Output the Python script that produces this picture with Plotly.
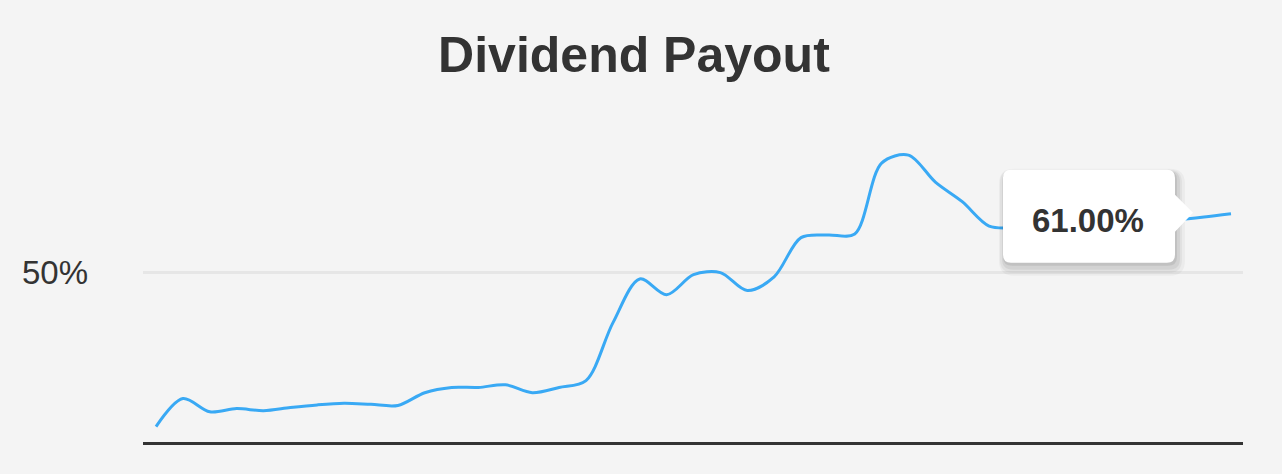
import plotly.graph_objects as go

# ---- data -------------------------------------------------------------
quarters = [
    "2014 Q1", "2014 Q2", "2014 Q3", "2014 Q4",
    "2015 Q1", "2015 Q2", "2015 Q3", "2015 Q4",
    "2016 Q1", "2016 Q2", "2016 Q3", "2016 Q4",
    "2017 Q1", "2017 Q2", "2017 Q3", "2017 Q4",
    "2018 Q1", "2018 Q2", "2018 Q3", "2018 Q4",
    "2019 Q1", "2019 Q2", "2019 Q3", "2019 Q4",
    "2020 Q1", "2020 Q2", "2020 Q3", "2020 Q4",
    "2021 Q1", "2021 Q2", "2021 Q3", "2021 Q4",
    "2022 Q1", "2022 Q2", "2022 Q3", "2022 Q4",
    "2023 Q1", "2023 Q2", "2023 Q3", "2023 Q4",
    "2024 Q1",
]
payout_pct = [
    20.8, 26.1, 23.6, 24.2, 23.8, 24.4, 24.9, 25.2, 25.0, 24.8,
    27.2, 28.2, 28.2, 28.7, 27.2, 28.2, 29.5, 40.4, 48.7, 45.7,
    49.5, 49.9, 46.5, 49.1, 56.5, 57.0, 57.2, 70.6, 72.1, 67.0,
    63.3, 58.7, 58.4, 58.6, 58.9, 59.1, 59.4, 59.6, 59.9, 60.4,
    61.0,
]
tick_values = [50]
tick_labels = ["50%"]
tooltip_text = "61.00%"

x_idx = list(range(len(quarters)))
last_x = x_idx[-1]
last_y = payout_pct[-1]

# ---- figure -----------------------------------------------------------
fig = go.Figure()
fig.add_trace(go.Scatter(
    x=x_idx, y=payout_pct,
    mode="lines",
    line=dict(color="#39a9f4", width=3, shape="spline", smoothing=0.9),
    text=quarters,
    hoverinfo="text+y",
    showlegend=False,
))

# tooltip callout (pixel-sized, anchored to last data point)
box = ("M -220,44 L -64,44 Q -56,44 -56,36 L -56,19 L -38,1 L -56,-18 "
       "L -56,-41 Q -56,-49 -64,-49 L -220,-49 Q -228,-49 -228,-41 "
       "L -228,36 Q -228,44 -220,44 Z")

def shifted(dx, dy, grow):
    return (f"M {-220+dx},{44+dy+grow} L {-64+dx},{44+dy+grow} "
            f"Q {-56+dx+grow},{44+dy+grow} {-56+dx+grow},{36+dy} "
            f"L {-56+dx+grow},{-41+dy} Q {-56+dx+grow},{-49+dy-grow} {-64+dx},{-49+dy-grow} "
            f"L {-220+dx},{-49+dy-grow} Q {-228+dx-grow},{-49+dy-grow} {-228+dx-grow},{-41+dy} "
            f"L {-228+dx-grow},{36+dy} Q {-228+dx-grow},{44+dy+grow} {-220+dx},{44+dy+grow} Z")

shapes = []
for dx, dy, g, a in [(3, -6, 7, 0.035), (2, -5, 5, 0.045), (2, -4, 3, 0.06), (1, -2, 1, 0.08)]:
    shapes.append(dict(
        type="path", xref="x", yref="y", xsizemode="pixel", ysizemode="pixel",
        xanchor=last_x, yanchor=last_y, path=shifted(dx, dy, g),
        fillcolor=f"rgba(0,0,0,{a})", line=dict(width=0), layer="above",
    ))
shapes.append(dict(
    type="path", xref="x", yref="y", xsizemode="pixel", ysizemode="pixel",
    xanchor=last_x, yanchor=last_y, path=box,
    fillcolor="#ffffff", line=dict(width=0), layer="above",
))

fig.update_layout(
    width=1282, height=474,
    margin=dict(l=143, r=39, t=110, b=32),
    paper_bgcolor="#f4f4f4",
    plot_bgcolor="#f4f4f4",
    font=dict(family="Liberation Sans, Arial, sans-serif", color="#333333"),
    title=dict(
        text="<b>Dividend Payout</b>",
        font=dict(size=50, color="#333333", family="Liberation Sans, Arial, sans-serif"),
        x=0.4945, xanchor="center", xref="container",
        y=1 - 54 / 474, yanchor="middle", yref="container",
    ),
    xaxis=dict(
        range=[-0.484, last_x + 0.447],
        showgrid=False, zeroline=False,
        showticklabels=False, ticks="",
        showline=True, linecolor="#333333", linewidth=3,
        fixedrange=True,
    ),
    yaxis=dict(
        range=[17.89, 80.62],
        tickvals=tick_values, ticktext=tick_labels,
        showgrid=True, gridcolor="#e6e6e6", gridwidth=3,
        zeroline=False, showline=False,
        ticks="", ticklabelstandoff=54,
        tickfont=dict(size=33, color="#333333"),
        fixedrange=True,
    ),
    shapes=shapes,
    annotations=[dict(
        x=last_x, y=last_y, xref="x", yref="y",
        text=f"<b>{tooltip_text}</b>", showarrow=False,
        xshift=-143, yshift=-7,
        font=dict(size=33, color="#333333", family="Liberation Sans, Arial, sans-serif"),
    )],
    hovermode="closest",
)

fig.write_html(
    "out.html",
    config={"displayModeBar": False},
    post_script="document.body.style.margin='0';document.body.style.background='#f4f4f4';",
)
